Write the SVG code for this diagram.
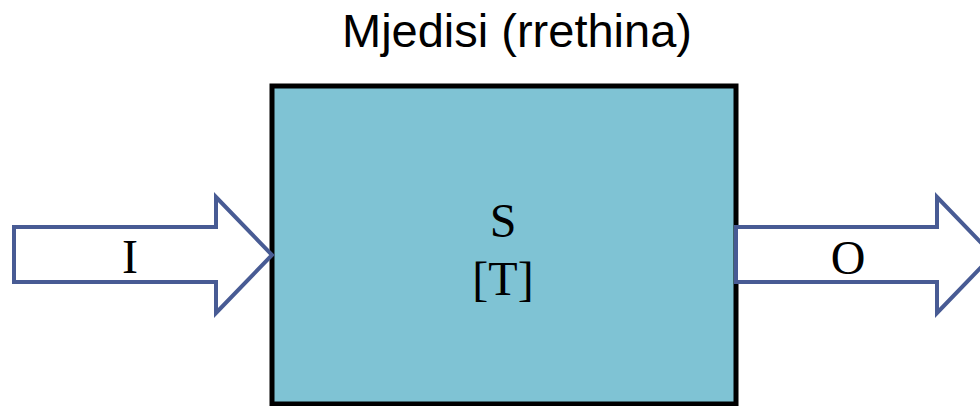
<svg xmlns="http://www.w3.org/2000/svg" width="980" height="406" viewBox="0 0 980 406">
<style>
.arrow{fill:#ffffff;stroke:#485b94;stroke-width:4;stroke-linejoin:miter}
.serif{font-family:"Liberation Serif","Times New Roman",serif;font-size:48px;fill:#000;text-anchor:middle}
.sans{font-family:"Liberation Sans",Arial,sans-serif;font-size:47px;fill:#000;text-anchor:middle}
</style>
<rect width="980" height="406" fill="#ffffff"/>
<text class="sans" x="517" y="47">Mjedisi (rrethina)</text>
<g id="system">
<rect x="272" y="86" width="464" height="318" fill="#7fc3d4" stroke="#000" stroke-width="5"/>
<text class="serif" x="503" y="237">S</text>
<text class="serif" x="503" y="295">[T]</text>
</g>
<g id="connectors">
<g id="input">
<path class="arrow" d="M14 227 H216 V197 L272 255 L216 313 V282 H14 Z"/>
<text class="serif" x="130" y="273">I</text>
</g>
<g id="output">
<path class="arrow" d="M736 227 H937 V197 L993 255 L937 313 V282 H736 Z"/>
<text class="serif" x="848" y="274">O</text>
</g>
</g>
</svg>
